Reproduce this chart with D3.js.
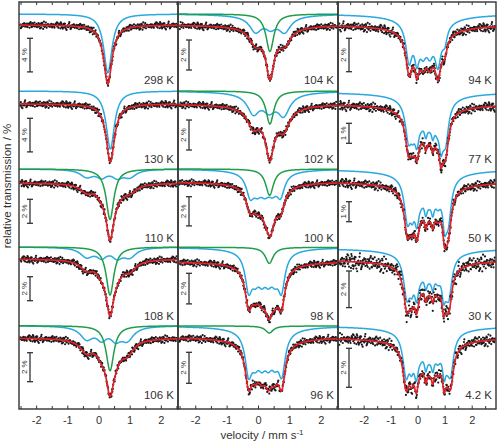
<!DOCTYPE html>
<html><head><meta charset="utf-8">
<script src="https://cdn.jsdelivr.net/npm/d3@7"></script>
<style>body{margin:0;background:#fff}svg{display:block}text{font-family:"Liberation Sans",Arial,sans-serif;fill:#333}</style>
</head><body><svg id="c" width="498" height="444"></svg>
<script>
// ---------------- data ----------------
const columnDomains = [[-2.55, 2.55], [-2.55, 2.55], [-2.95, 2.9]];
const temperatures = [
  ["298 K", "130 K", "110 K", "108 K", "106 K"],
  ["104 K", "102 K", "100 K", "98 K", "96 K"],
  ["94 K", "77 K", "50 K", "30 K", "4.2 K"]
];
const scaleBarPct = [[4, 4, 2, 2, 2], [2, 2, 2, 2, 2], [2, 1, 1, 2, 2]];
const xTickValues = [-2, -1, 0, 1, 2];
const xMinorTicks = [-2.5, -1.5, -0.5, 0.5, 1.5, 2.5];
// singlet subspectrum [centre mm/s, FWHM mm/s, depth %]
const greenLines = [
  [null, null, [0.37, 0.30, 4.2], [0.37, 0.30, 4.0], [0.37, 0.30, 3.1]],
  [[0.38, 0.30, 2.5], [0.38, 0.30, 2.2], [0.37, 0.30, 1.8], [0.36, 0.30, 1.05], [0.36, 0.30, 0.45]],
  [null, null, null, null, null]
];
// second subspectrum as Lorentzian lines [centre, FWHM, depth %]
const blueLines = [
  [
    [[0.30, 0.32, 7.0]],
    [[0.38, 0.32, 6.9]],
    [[-0.38, 0.5, 0.62], [0.1, 0.4, 0.58], [0.6, 0.4, 0.58], [1.0, 0.5, 0.62]],
    [[-0.38, 0.5, 0.77], [0.1, 0.4, 0.72], [0.6, 0.4, 0.72], [1.0, 0.5, 0.77]],
    [[-0.38, 0.5, 0.85], [0.1, 0.4, 0.76], [0.55, 0.4, 0.76], [0.92, 0.5, 0.9]]
  ],
  [
    [[-0.08, 0.45, 0.95], [0.4, 0.4, 0.55], [0.85, 0.45, 0.95], [0.4, 1.8, 0.25]],
    [[-0.15, 0.45, 1.2], [0.35, 0.45, 0.85], [0.82, 0.45, 1.3], [0.35, 1.8, 0.3]],
    [[-0.25, 0.3, 1.4], [-0.02, 0.34, 0.9], [0.22, 0.34, 0.9], [0.46, 0.34, 0.9], [0.72, 0.3, 1.4], [0.25, 1.6, 0.3]],
    [[-0.3, 0.26, 2.2], [-0.09, 0.3, 1.18], [0.12, 0.3, 1.18], [0.33, 0.3, 1.18], [0.54, 0.3, 1.18], [0.75, 0.26, 2.2], [0.22, 1.6, 0.35]],
    [[-0.3, 0.26, 2.4], [-0.09, 0.3, 1.3], [0.12, 0.3, 1.3], [0.33, 0.3, 1.3], [0.54, 0.3, 1.3], [0.76, 0.26, 2.4], [0.22, 1.7, 0.4]]
  ],
  [
    [[-0.32, 0.28, 2.2], [-0.03, 0.22, 1.7], [0.2, 0.3, 1.25], [0.45, 0.3, 1.25], [0.75, 0.28, 2.2], [1.0, 0.22, 0.9], [0.35, 2.0, 0.65]],
    [[-0.34, 0.28, 1.8], [-0.18, 0.2, 0.8], [-0.03, 0.2, 1.45], [0.14, 0.3, 0.55], [0.3, 0.14, 0.75], [0.43, 0.3, 0.6], [0.56, 0.14, 0.75], [0.72, 0.3, 0.85], [0.86, 0.16, 1.3], [0.94, 0.2, 0.45], [1.04, 0.26, 1.7], [0.35, 2.1, 0.5]],
    [[-0.38, 0.28, 2.0], [-0.2, 0.2, 1.0], [-0.03, 0.2, 1.55], [0.13, 0.3, 0.5], [0.3, 0.14, 0.8], [0.43, 0.3, 0.6], [0.56, 0.14, 0.8], [0.75, 0.3, 0.9], [0.99, 0.16, 1.4], [1.06, 0.2, 0.5], [1.14, 0.26, 1.75], [0.38, 2.2, 0.55]],
    [[-0.4, 0.28, 2.1], [-0.22, 0.2, 1.0], [-0.04, 0.2, 1.6], [0.12, 0.3, 0.45], [0.3, 0.14, 0.8], [0.43, 0.3, 0.55], [0.56, 0.14, 0.8], [0.75, 0.3, 0.85], [0.96, 0.16, 1.4], [1.06, 0.2, 0.55], [1.16, 0.26, 1.85], [0.38, 2.2, 0.55]],
    [[-0.43, 0.28, 2.0], [-0.23, 0.2, 1.0], [-0.05, 0.2, 1.55], [0.12, 0.3, 0.5], [0.3, 0.14, 0.85], [0.43, 0.3, 0.6], [0.56, 0.14, 0.85], [0.75, 0.3, 0.9], [0.98, 0.16, 1.4], [1.1, 0.2, 0.55], [1.22, 0.26, 1.8], [0.4, 2.2, 0.52]]
  ]
];
// scatter of the measured points (standard deviation, %)
const noiseSd = [[0.2, 0.2, 0.14, 0.14, 0.12], [0.11, 0.11, 0.11, 0.11, 0.12], [0.13, 0.11, 0.11, 0.21, 0.14]];
const residuals = [0.3,-1.2,0.8,-0.1,1.5,-0.7,0.2,-1.8,0.9,0.4,-0.5,1.1,-0.3,0.0,-1.4,0.6,1.9,-0.8,0.1,-0.2,0.7,-1.0,1.3,-0.6,0.5,-2.1,0.2,1.0,-0.4,-0.9,1.6,0.0,-0.3,0.8,-1.5,0.4,1.2,-0.1,-0.7,2.2,-1.1,0.3,0.6,-0.4,-1.3,0.9,0.1,-0.6,1.4,-0.2,-1.7,0.5,0.7,-0.9,0.2,1.8,-0.5,-0.1,1.0,-1.2,0.4,-0.8,0.3,1.1,-2.4,0.6,0.0,-0.3,1.3,-1.0,0.8,-0.4,0.5,-0.6,1.7,-0.2,-1.1,0.9,0.1,-1.6,0.7,0.2,-0.7,1.2,-0.9,0.4,2.0,-0.3,-1.4,0.6,-0.1,0.3,-0.8,1.5,-0.5,0.0,-1.9,1.1,0.2,-0.4,0.8,-1.3,0.5,1.0,-0.6,-0.2,1.4,-1.0,0.3,0.7,-1.5,0.1,-0.7,2.3,-0.9,0.4,0.6,-1.2,0.0,0.9,-0.3,-1.8,1.2,-0.5,0.2,1.6,-1.1];
const channels = 400;

// ---------------- layout ----------------
const colX = [[19, 178], [178, 338], [338, 496]];
const frameTop = 2, frameBottom = 409, rowPitch = 78.8;
const pxPerPct = [[8.4, 8.4, 12, 12, 14.5], [15, 15, 14.6, 15.3, 15.5], [16.7, 20, 20, 18.3, 19.5]];
const dataBase = [[23, 23.2, 23.4, 20.6, 20.8], [23, 23.2, 22.4, 23.3, 20.1], [23, 23.5, 22.1, 21.6, 20.5]];
const compGap = [[11, 13, 14, 12, 12.3], [11, 13, 13, 14.4, 11.3], [11, 12, 12.4, 11.7, 11.7]];
const barTop = [[36.3, 37.5, 39.7, 38.3, 35.5], [38, 39.2, 37.1, 34.9, 35.1], [36.3, 42.5, 42.1, 32.6, 31.1]];
const RED = "#e3232b", BLUE = "#2aa8e0", GREEN = "#1f9e4a";

const svg = d3.select("#c");
const lor = (x, l) => { const t = (x - l[0]) / (l[1] / 2); return l[2] / (1 + t * t); };
const absorb = (lines, x) => lines.reduce((s, l) => s + lor(x, l), 0);

for (let c = 0; c < 3; c++) {
  const dom = columnDomains[c];
  const xs = d3.scaleLinear().domain(dom).range(colX[c]);
  const grid = d3.range(0, 601).map(i => dom[0] + (dom[1] - dom[0]) * i / 600);
  for (let r = 0; r < 5; r++) {
    const top = frameTop + r * rowPitch;
    const ppp = pxPerPct[c][r];
    const y = d3.scaleLinear().domain([100, 99]).range([top + dataBase[c][r], top + dataBase[c][r] + ppp]);
    const off = compGap[c][r] / ppp;
    const blue = blueLines[c][r], green = greenLines[c][r];
    const all = green ? blue.concat([green]) : blue;
    const line = d3.line().x(d => xs(d[0])).y(d => y(d[1]));
    const g = svg.append("g");
    g.append("path").attr("d", line(grid.map(v => [v, 100 + off - absorb(blue, v)])))
      .attr("fill", "none").attr("stroke", BLUE).attr("stroke-width", 1.5);
    if (green) g.append("path").attr("d", line(grid.map(v => [v, 100 + off - lor(v, green)])))
      .attr("fill", "none").attr("stroke", GREEN).attr("stroke-width", 1.5);
    const p = c * 5 + r;
    const pts = d3.range(channels).map(i => {
      const v = dom[0] + 0.04 + (dom[1] - dom[0] - 0.08) * (i + 0.5) / channels;
      const e = residuals[(i * 7 + p * 29) % residuals.length];
      return [v, 100 - absorb(all, v) + noiseSd[c][r] * e];
    });
    g.selectAll("circle").data(pts).join("circle")
      .attr("cx", d => xs(d[0])).attr("cy", d => y(d[1])).attr("r", 1.1).attr("fill", "#1a1a1a");
    g.append("path").attr("d", line(grid.map(v => [v, 100 - absorb(all, v)])))
      .attr("fill", "none").attr("stroke", RED).attr("stroke-width", 1.7);
    // temperature label
    svg.append("text").attr("x", colX[c][1] - 4).attr("y", top + 82).attr("text-anchor", "end")
      .attr("font-size", 11.5).text(temperatures[c][r]);
    // scale bar
    const bx = colX[c][0] + 11, by0 = top + barTop[c][r], by1 = by0 + scaleBarPct[c][r] * ppp;
    const sb = svg.append("g").attr("stroke", "#333").attr("stroke-width", 1.3);
    sb.append("line").attr("x1", bx).attr("x2", bx).attr("y1", by0).attr("y2", by1);
    sb.append("line").attr("x1", bx - 3).attr("x2", bx + 3).attr("y1", by0).attr("y2", by0);
    sb.append("line").attr("x1", bx - 3).attr("x2", bx + 3).attr("y1", by1).attr("y2", by1);
    svg.append("text").attr("transform", `translate(${bx - 3},${(by0 + by1) / 2}) rotate(-90)`)
      .attr("text-anchor", "middle").attr("font-size", 8).text(scaleBarPct[c][r] + " %");
  }
  // axes
  const bottom = svg.append("g").attr("transform", `translate(0,${frameBottom})`)
    .call(d3.axisBottom(xs).tickValues(xTickValues).tickSize(-3.5).tickPadding(7).tickFormat(d => String(d)));
  bottom.select(".domain").remove();
  bottom.selectAll("text").attr("font-size", 11).attr("fill", "#333").attr("font-family", "Liberation Sans, Arial, sans-serif");
  const bm = svg.append("g").attr("transform", `translate(0,${frameBottom})`)
    .call(d3.axisBottom(xs).tickValues(xMinorTicks.filter(v => v > dom[0] && v < dom[1])).tickSize(-3).tickFormat(""));
  bm.select(".domain").remove();
  const tp = svg.append("g").attr("transform", `translate(0,${frameTop})`)
    .call(d3.axisTop(xs).tickValues(xTickValues.concat(xMinorTicks).filter(v => v > dom[0] && v < dom[1])).tickSize(-3).tickFormat(""));
  tp.select(".domain").remove();
  svg.selectAll(".tick line").attr("stroke", "#333").attr("stroke-width", 1);
  svg.append("rect").attr("x", colX[c][0]).attr("y", frameTop).attr("width", colX[c][1] - colX[c][0])
    .attr("height", frameBottom - frameTop).attr("fill", "none").attr("stroke", "#333").attr("stroke-width", 1.4);
}
// titles
const xt = svg.append("text").attr("x", 262).attr("y", 439).attr("text-anchor", "middle").attr("font-size", 11.5);
xt.append("tspan").text("velocity / mm s");
xt.append("tspan").attr("dy", -4).attr("font-size", 8).text("-1");
svg.append("text").attr("transform", "translate(11,186) rotate(-90)").attr("text-anchor", "middle")
  .attr("font-size", 11.5).text("relative transmission / %");
</script></body></html>
